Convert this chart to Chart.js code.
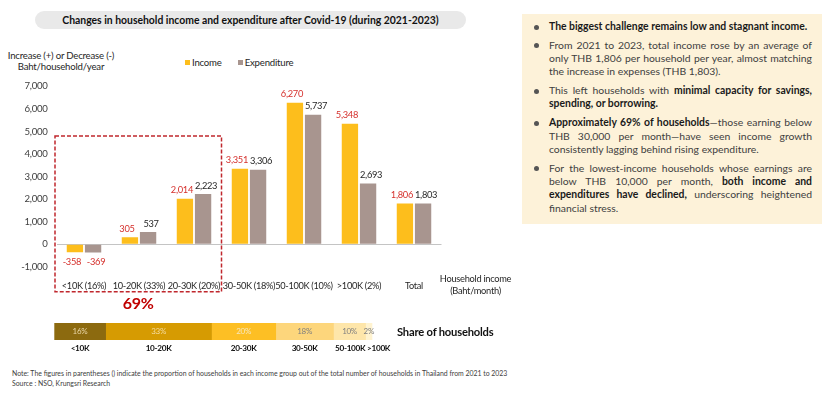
<!DOCTYPE html>
<html>
<head>
<meta charset="utf-8">
<script src="https://cdn.jsdelivr.net/npm/chart.js@4"></script>
<style>
  body { margin: 0; width: 840px; height: 394px; background: #fff; position: relative; overflow: hidden; font-family: Lato, sans-serif; color: #262626; }
  .abs { position: absolute; }
  #title { left: 35px; top: 11px; width: 431px; height: 18px; border-radius: 9px; background: #e9e9e9; font-weight: bold; font-size: 10.4px; line-height: 18px; text-align: center; color: #111; }
  #ytitle { left: 0; top: 50px; width: 122px; text-align: center; font-size: 9.6px; letter-spacing: -0.2px; line-height: 11px; color: #262626; }
  #legend { left: 185px; top: 57px; font-size: 9.6px; letter-spacing: -0.2px; line-height: 12px; white-space: nowrap; }
  #legend span.sw { display: inline-block; width: 5px; height: 5px; margin-right: 2px; vertical-align: 1px; }
  #share-title { left: 397px; top: 324px; font-weight: bold; font-size: 11.2px; letter-spacing: -0.2px; line-height: 16px; color: #111; }
  #note { left: 12px; top: 368px; font-size: 6.9px; line-height: 10px; color: #404040; white-space: nowrap; }
  #panel { left: 522px; top: 14px; width: 300px; height: 210px; background: #fdf2d9; box-sizing: border-box; padding: 6px 10px 0 27px; font-size: 10.4px; line-height: 13.3px; color: #404040; }
  #panel .p { position: relative; margin-bottom: 5.5px; }
  #panel .p::before { content: ""; position: absolute; left: -15px; top: 4.5px; width: 5px; height: 5px; border-radius: 50%; background: #555; }
  #panel .l { display: block; text-align: justify; text-align-last: justify; white-space: nowrap; }
  #panel .l.end { text-align-last: left; }
  #panel b { color: #1a1a1a; }
</style>
</head>
<body>
<div id="title" class="abs">Changes in household income and expenditure after Covid-19 (during 2021-2023)</div>
<div id="ytitle" class="abs">Increase (+) or Decrease (-)<br>Baht/household/year</div>
<div id="legend" class="abs"><span class="sw" style="background:#fdbe1c"></span>Income<span style="display:inline-block;width:16px"></span><span class="sw" style="background:#a8958f"></span>Expenditure</div>
<div class="abs" style="left:0;top:40px;width:520px;height:275px"><canvas id="main" width="520" height="275"></canvas></div>
<div class="abs" style="left:0;top:318px;width:500px;height:40px"><canvas id="share" width="500" height="40"></canvas></div>
<div id="share-title" class="abs">Share of households</div>
<div id="note" class="abs">Note: The figures in parentheses () indicate the proportion of households in each income group out of the total number of households in Thailand from 2021 to 2023<br>Source : NSO, Krungsri Research</div>
<div id="panel" class="abs">
  <div class="p"><span class="l end"><b>The biggest challenge remains low and stagnant income.</b></span></div>
  <div class="p"><span class="l">From 2021 to 2023, total income rose by an average of</span><span class="l">only THB 1,806 per household per year, almost matching</span><span class="l end">the increase in expenses (THB 1,803).</span></div>
  <div class="p"><span class="l">This left households with <b>minimal capacity for savings,</b></span><span class="l end"><b>spending, or borrowing.</b></span></div>
  <div class="p"><span class="l"><b>Approximately 69% of households</b>—those earning below</span><span class="l">THB 30,000 per month—have seen income growth</span><span class="l end">consistently lagging behind rising expenditure.</span></div>
  <div class="p"><span class="l">For the lowest-income households whose earnings are</span><span class="l">below THB 10,000 per month, <b>both income and</b></span><span class="l"><b>expenditures have declined,</b> underscoring heightened</span><span class="l end">financial stress.</span></div>
</div>
<script>
// data
const categories = ["<10K (16%)", "10-20K (33%)", "20-30K (20%)", "30-50K (18%)", "50-100K (10%)", ">100K (2%)", "Total"];
const income = [-358, 305, 2014, 3351, 6270, 5348, 1806];
const expenditure = [-369, 537, 2223, 3306, 5737, 2693, 1803];
const yMin = -1000, yMax = 7000, yStep = 1000;

const shareGroups = ["<10K", "10-20K", "20-30K", "30-50K", "50-100K", ">100K"];
const shareValues = [16, 33, 20, 18, 10, 2];
const shareColors = ["#8c6a0f", "#d69b02", "#fdbf24", "#fdd67c", "#fee6aa", "#fff3d0"];
const shareText = ["#ead7a8", "#f4dca0", "#f7e7bd", "#7f7f7f", "#7f7f7f", "#7f7f7f"];

const FONT = "Lato, sans-serif";
const RED = "#d5302c";
const nf = new Intl.NumberFormat("en-US");

// no narrow font is installed, so tighten the tracking of all canvas text
const tight = {
  id: "tight",
  beforeDraw(chart) { chart.ctx.letterSpacing = "-0.3px"; },
};

const valueLabels = {
  id: "valueLabels",
  afterDatasetsDraw(chart) {
    const ctx = chart.ctx;
    ctx.save();
    ctx.font = "9.3px " + FONT;
    ctx.textAlign = "center";
    ctx.textBaseline = "middle";
    chart.data.datasets.forEach((ds, i) => {
      const dx = i === 0 ? -3 : 3;
      chart.getDatasetMeta(i).data.forEach((bar, j) => {
        const v = ds.data[j];
        ctx.fillStyle = i === 0 || v < 0 ? RED : "#262626";
        const y = v < 0 ? bar.y + 10 : bar.y - 8.5;
        ctx.fillText(nf.format(v), bar.x + dx, y);
      });
    });
    ctx.restore();
  },
};

const extras = {
  id: "extras",
  afterDraw(chart) {
    const { ctx, chartArea } = chart;
    const y = chart.scales.y;
    const catW = (chartArea.right - chartArea.left) / categories.length;
    ctx.save();
    // dashed box round the three lowest groups
    const bx0 = chartArea.left - 1.5, bx1 = chartArea.left + 3 * catW;
    const by0 = y.getPixelForValue(4800), by1 = chartArea.bottom + 25;
    ctx.strokeStyle = "#c0272d";
    ctx.lineWidth = 1.5;
    ctx.setLineDash([4, 2]);
    ctx.strokeRect(bx0, by0, bx1 - bx0, by1 - by0);
    ctx.setLineDash([]);
    ctx.fillStyle = "#c00000";
    ctx.font = "bold 16px " + FONT;
    ctx.textAlign = "center";
    ctx.textBaseline = "middle";
    ctx.fillText("69%", (bx0 + bx1) / 2, by1 + 12);
    // axis caption at the end of the category axis
    ctx.fillStyle = "#262626";
    ctx.font = "9.3px " + FONT;
    const cx = chartArea.right + 34;
    ctx.fillText("Household income", cx, chartArea.bottom + 12.5);
    ctx.fillText("(Baht/month)", cx, chartArea.bottom + 24);
    ctx.restore();
  },
};

const shareLabels = {
  id: "shareLabels",
  afterDatasetsDraw(chart) {
    const { ctx, chartArea } = chart;
    ctx.save();
    ctx.textBaseline = "middle";
    chart.data.datasets.forEach((ds, i) => {
      const bar = chart.getDatasetMeta(i).data[0];
      const x0 = bar.base, x1 = bar.x;
      const mid = (x0 + x1) / 2;
      ctx.font = "8px " + FONT;
      ctx.textAlign = "center";
      ctx.fillStyle = shareText[i];
      ctx.fillText(ds.data[0] + "%", mid, (chartArea.top + chartArea.bottom) / 2);
      ctx.font = "bold 8.2px " + FONT;
      ctx.fillStyle = "#111";
      const w = ctx.measureText(ds.label).width;
      if (w > x1 - x0 - 2) {
        ctx.textAlign = "left";
        ctx.fillText(ds.label, x0 + 1.5, chartArea.bottom + 8);
      } else {
        ctx.fillText(ds.label, mid, chartArea.bottom + 8);
      }
    });
    ctx.restore();
  },
};

async function main() {
  try {
    await Promise.all([document.fonts.load("10px Lato"), document.fonts.load("bold 10px Lato")]);
  } catch (e) {}
  Chart.defaults.font.family = FONT;
  Chart.defaults.color = "#262626";

  new Chart(document.getElementById("main"), {
    type: "bar",
    data: {
      labels: categories,
      datasets: [
        { label: "Income", data: income, backgroundColor: "#fdbe1c" },
        { label: "Expenditure", data: expenditure, backgroundColor: "#a8958f" },
      ],
    },
    options: {
      responsive: false,
      animation: false,
      categoryPercentage: 0.66,
      barPercentage: 0.9,
      layout: { padding: { top: 46.4, right: 78.5, bottom: 0, left: 0 } },
      plugins: { legend: { display: false }, tooltip: { enabled: false } },
      scales: {
        x: {
          grid: { display: false },
          border: { display: false },
          ticks: { padding: 6, maxRotation: 0, autoSkip: false, font: { size: 9.2 }, color: "#262626" },
          afterFit: (s) => { s.height = 48.3; },
        },
        y: {
          min: yMin,
          max: yMax,
          ticks: { stepSize: yStep, padding: 9, font: { size: 9.6 }, color: "#404040", callback: (v) => nf.format(v) },
          grid: { drawTicks: false, color: (c) => (c.tick && c.tick.value === 0 ? "#c4c4c4" : "transparent") },
          border: { display: false },
          afterFit: (s) => { s.width = 56.5; },
        },
      },
    },
    plugins: [tight, valueLabels, extras],
  });

  new Chart(document.getElementById("share"), {
    type: "bar",
    data: {
      labels: ["share"],
      datasets: shareGroups.map((g, i) => ({ label: g, data: [shareValues[i]], backgroundColor: shareColors[i], borderWidth: 0 })),
    },
    options: {
      indexAxis: "y",
      responsive: false,
      animation: false,
      barPercentage: 1,
      categoryPercentage: 1,
      layout: { padding: { top: 5, right: 124.8, bottom: 18, left: 54.3 } },
      plugins: { legend: { display: false }, tooltip: { enabled: false } },
      scales: {
        x: { stacked: true, min: 0, max: 100, display: false },
        y: { stacked: true, display: false },
      },
    },
    plugins: [tight, shareLabels],
  });
}

main();
</script>
</body>
</html>
